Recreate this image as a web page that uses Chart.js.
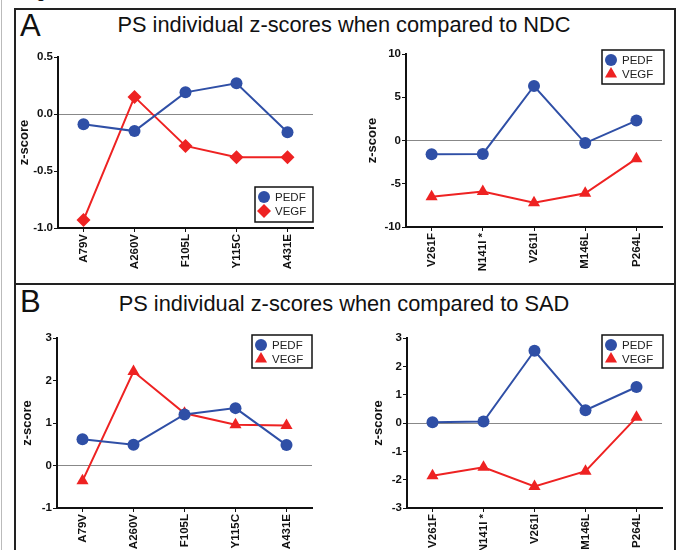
<!DOCTYPE html>
<html>
<head>
<meta charset="utf-8">
<script src="https://cdn.jsdelivr.net/npm/chart.js@4.4.1/dist/chart.umd.min.js"></script>
<style>
  html, body { margin: 0; padding: 0; background: #fff; }
  #page { position: relative; width: 681px; height: 550px; overflow: hidden; font-family: "Liberation Sans", Arial, sans-serif; }
  .box { position: absolute; }
  .frame { position: absolute; background: #222; }
  .lbl { position: absolute; color: #111; white-space: nowrap; }
</style>
</head>
<body>
<div id="page">
  <div class="lbl" style="left:22px; top:-17px; font-size:17px;">Figure</div>
  <div class="frame" style="left:1px; top:0; width:1px; height:550px; background:#bbb;"></div>
  <div class="frame" style="left:14px; top:8px; width:2px; height:542px;"></div>
  <div class="frame" style="left:14px; top:8px; width:662px; height:2px;"></div>
  <div class="frame" style="left:674px; top:8px; width:2px; height:542px;"></div>
  <div class="frame" style="left:14px; top:283px; width:662px; height:2px;"></div>

  <div class="lbl" style="left:20px; top:8px; font-size:31px;">A</div>
  <div class="lbl" style="left:20px; top:284px; font-size:31px;">B</div>
  <div class="lbl" style="left:0; width:688px; text-align:center; top:12px; font-size:21.8px;">PS individual z-scores when compared to NDC</div>
  <div class="lbl" style="left:0; width:688px; text-align:center; top:291px; font-size:21.8px;">PS individual z-scores when compared to SAD</div>

  <canvas id="cAL" class="box"></canvas>
  <canvas id="cAR" class="box"></canvas>
  <canvas id="cBL" class="box"></canvas>
  <canvas id="cBR" class="box"></canvas>
</div>
<script>
// mutation groups
const leftMutations = ["A79V", "A260V", "F105L", "Y115C", "A431E"];
const rightMutations = ["V261F", "N141I *", "V261I", "M146L", "P264L"];

// A: compared to NDC
const ndcLeftPEDF = [-0.09, -0.15, 0.19, 0.27, -0.16];
const ndcLeftVEGF = [-0.93, 0.15, -0.28, -0.38, -0.38];
const ndcRightPEDF = [-1.6, -1.55, 6.3, -0.3, 2.3];
const ndcRightVEGF = [-6.5, -5.9, -7.2, -6.1, -2.1];

// B: compared to SAD
const sadLeftPEDF = [0.62, 0.49, 1.2, 1.35, 0.48];
const sadLeftVEGF = [-0.36, 2.21, 1.23, 0.96, 0.94];
const sadRightPEDF = [0.03, 0.05, 2.55, 0.45, 1.27];
const sadRightVEGF = [-1.86, -1.56, -2.24, -1.7, 0.2];

const BLUE = "#2f4fa6";
const RED = "#ee2222";

// legend drawn inside the plot with a black box
const boxLegend = {
  id: "boxLegend",
  afterDraw(chart, args, opts) {
    const ctx = chart.ctx;
    const b = opts.box;
    ctx.save();
    ctx.fillStyle = "#fff";
    ctx.fillRect(b.x, b.y, b.w, b.h);
    ctx.strokeStyle = "#111";
    ctx.lineWidth = 1.5;
    ctx.strokeRect(b.x, b.y, b.w, b.h);
    chart.data.datasets.forEach((ds, i) => {
      const cy = b.y + 10 + i * 14;
      const cx = b.x + 9;
      ctx.fillStyle = ds.borderColor;
      ctx.beginPath();
      const r = ds.pointRadius;
      if (ds.pointStyle === "circle") {
        ctx.arc(cx, cy, r, 0, Math.PI * 2);
      } else if (ds.pointStyle === "triangle") {
        ctx.moveTo(cx, cy - r);
        ctx.lineTo(cx + r * 0.866, cy + r * 0.5);
        ctx.lineTo(cx - r * 0.866, cy + r * 0.5);
      } else {
        ctx.moveTo(cx, cy - r);
        ctx.lineTo(cx + r, cy);
        ctx.lineTo(cx, cy + r);
        ctx.lineTo(cx - r, cy);
      }
      ctx.closePath();
      ctx.fill();
      ctx.fillStyle = "#222";
      ctx.font = "11.5px 'Liberation Sans', Arial, sans-serif";
      ctx.textBaseline = "middle";
      ctx.textAlign = "left";
      ctx.fillText(ds.label, b.x + 20, cy + 0.5);
    });
    ctx.restore();
  }
};

function makeChart(id, pos, labels, pedf, vegf, vegfStyle, yr, legendBox) {
  const el = document.getElementById(id);
  const a = pos.area;
  const left = a.l - 58;
  const w = a.r - left + 20;
  el.style.left = left + "px";
  el.style.top = pos.top + "px";
  el.width = w;
  el.height = pos.h;
  el.style.width = w + "px";
  el.style.height = pos.h + "px";
  const tickFont = { family: "'Liberation Sans', Arial, sans-serif", size: 11.5, weight: "bold" };
  const titleFont = { family: "'Liberation Sans', Arial, sans-serif", size: 13, weight: "bold" };

  return new Chart(el, {
    type: "line",
    data: {
      labels,
      datasets: [
        { label: "PEDF", data: pedf, borderColor: BLUE, backgroundColor: BLUE, borderWidth: 2,
          pointStyle: "circle", pointRadius: 6, pointBorderWidth: 0 },
        { label: "VEGF", data: vegf, borderColor: RED, backgroundColor: RED, borderWidth: 2,
          pointStyle: vegfStyle, pointRadius: 7, pointBorderWidth: 0 }
      ]
    },
    options: {
      responsive: false,
      animation: false,
      layout: { padding: { left: 0, top: a.t - pos.top, right: 20, bottom: 0 } },
      plugins: {
        legend: { display: false },
        tooltip: { enabled: false },
        boxLegend: { box: { x: legendBox.x - left, y: legendBox.y - pos.top, w: legendBox.w, h: legendBox.h } }
      },
      scales: {
        x: {
          offset: true,
          grid: { offset: false, color: "transparent", tickColor: "#111", tickLength: 4, drawOnChartArea: false },
          border: { color: "#111", width: 2 },
          ticks: { color: "#111", font: tickFont, minRotation: 90, maxRotation: 90, padding: 2, autoSkip: false },
          afterFit: s => { s.height = pos.top + pos.h - a.b; }
        },
        y: {
          min: yr.min, max: yr.max,
          grid: {
            color: c => (c.tick && c.tick.value === 0 ? "#888" : "transparent"),
            lineWidth: 1, tickColor: "#111", tickLength: 4
          },
          border: { color: "#111", width: 2 },
          ticks: { color: "#111", font: tickFont, stepSize: yr.step, padding: 1,
            callback: v => v.toFixed(yr.dec) },
          title: { display: true, text: "z-score", color: "#111", font: titleFont,
            padding: { top: 58 - pos.titleGap - 8, bottom: 4 } },
          afterFit: s => { s.width = 58; }
        }
      }
    },
    plugins: [boxLegend]
  });
}

makeChart("cAL", { top: 40, h: 240, titleGap: 33, area: { l: 58, r: 313, t: 57, b: 228 } },
  leftMutations, ndcLeftPEDF, ndcLeftVEGF, "rectRot", { min: -1, max: 0.5, step: 0.5, dec: 1 },
  { x: 255, y: 187, w: 58, h: 35 });

makeChart("cAR", { top: 40, h: 240, titleGap: 33, area: { l: 406, r: 662, t: 54, b: 227 } },
  rightMutations, ndcRightPEDF, ndcRightVEGF, "triangle", { min: -10, max: 10, step: 5, dec: 0 },
  { x: 602, y: 50, w: 62, h: 34 });

makeChart("cBL", { top: 320, h: 230, titleGap: 29, area: { l: 57, r: 312, t: 338, b: 508 } },
  leftMutations, sadLeftPEDF, sadLeftVEGF, "triangle", { min: -1, max: 3, step: 1, dec: 0 },
  { x: 252, y: 335, w: 60, h: 33 });

makeChart("cBR", { top: 320, h: 230, titleGap: 28, area: { l: 407, r: 662, t: 338, b: 508 } },
  rightMutations, sadRightPEDF, sadRightVEGF, "triangle", { min: -3, max: 3, step: 1, dec: 0 },
  { x: 602, y: 335, w: 61, h: 33 });
</script>
</body>
</html>
